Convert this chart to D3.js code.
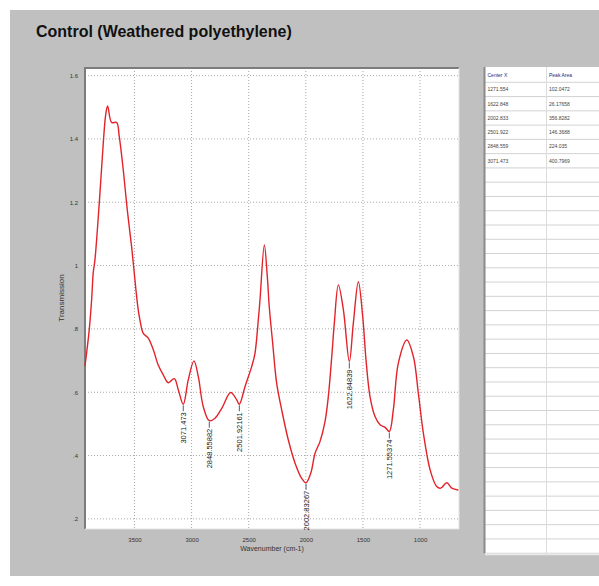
<!DOCTYPE html>
<html>
<head>
<meta charset="utf-8">
<script src="https://cdn.jsdelivr.net/npm/d3@7"></script>
<style>
  body { margin: 0; background: white; }
  text { font-family: "Liberation Sans", Arial, sans-serif; }
</style>
</head>
<body>
<svg id="chart" width="599" height="586"></svg>
<script>
// spectrum (wavenumber cm-1 -> transmission)
var wavenumber = [3933, 3896, 3875, 3861, 3846, 3808, 3773, 3752, 3735, 3700, 3656, 3633, 3598, 3563, 3525, 3487, 3467, 3452, 3423, 3379, 3335, 3292, 3248, 3204, 3151, 3116, 3073, 3029, 2979, 2941, 2898, 2845, 2795, 2736, 2658, 2605, 2582, 2532, 2474, 2445, 2416, 2401, 2363, 2337, 2320, 2290, 2255, 2211, 2153, 2094, 2036, 1998, 1957, 1919, 1876, 1832, 1803, 1773, 1750, 1715, 1671, 1619, 1584, 1540, 1502, 1473, 1438, 1394, 1350, 1306, 1269, 1234, 1190, 1116, 1058, 1015, 971, 912, 854, 819, 766, 722, 665]
var transmission = [0.683, 0.797, 0.892, 0.977, 1.018, 1.198, 1.387, 1.476, 1.504, 1.452, 1.452, 1.407, 1.302, 1.176, 1.06, 0.923, 0.86, 0.828, 0.786, 0.771, 0.734, 0.686, 0.655, 0.630, 0.643, 0.607, 0.562, 0.639, 0.699, 0.649, 0.555, 0.510, 0.518, 0.549, 0.599, 0.576, 0.562, 0.618, 0.681, 0.723, 0.828, 0.892, 1.065, 0.965, 0.870, 0.755, 0.628, 0.544, 0.449, 0.376, 0.328, 0.314, 0.344, 0.407, 0.444, 0.507, 0.586, 0.712, 0.82, 0.939, 0.860, 0.697, 0.818, 0.949, 0.839, 0.702, 0.586, 0.523, 0.497, 0.489, 0.476, 0.544, 0.692, 0.765, 0.712, 0.597, 0.471, 0.355, 0.302, 0.297, 0.314, 0.297, 0.291]

var xTicks = [3500, 3000, 2500, 2000, 1500, 1000]
var yTicks = [0.2, 0.4, 0.6, 0.8, 1, 1.2, 1.4, 1.6]
var yTickText = ['.2', '.4', '.6', '.8', '1', '1.2', '1.4', '1.6']

// peak markers on the curve
var peakPos = [3073, 2845, 2582, 1998, 1619, 1269]
var peakVal = [0.562, 0.510, 0.562, 0.314, 0.697, 0.476]
var peakText = ['3071.473', '2848.55882', '2501.92161', '2002.83267', '1622.84839', '1271.55374']

// table on the right
var tableCenter = ['1271.554', '1622.848', '2002.833', '2501.922', '2848.559', '3071.473']
var tableArea = ['102.0472', '26.17658', '356.8282', '146.3688', '224.035', '400.7969']
var tableRows = 33

var svg = d3.select('#chart')

svg.append('rect') // grey panel
  .attr('x', 10).attr('y', 10)
  .attr('width', 589).attr('height', 566)
  .attr('fill', '#c0c0c0')

svg.append('text')
  .attr('x', 36).attr('y', 36.5)
  .attr('font-size', '16px')
  .attr('font-weight', 'bold')
  .attr('fill', '#111')
  .text('Control (Weathered polyethylene)')

// plot box (plotTop, not top: window.top is taken)
var plotLeft = 85, plotRight = 459, plotTop = 68, plotBottom = 529

var x = d3.scaleLinear().domain([3933, 659]).range([plotLeft, plotRight])
var y = d3.scaleLinear().domain([0.168, 1.624]).range([plotBottom, plotTop])

svg.append('rect')
  .attr('x', plotLeft).attr('y', plotTop)
  .attr('width', plotRight - plotLeft).attr('height', plotBottom - plotTop)
  .attr('fill', 'white')

// dotted grid
svg.append('g')
  .selectAll('line')
  .data(xTicks)
  .join('line')
  .attr('x1', d => x(d)).attr('x2', d => x(d))
  .attr('y1', plotTop).attr('y2', plotBottom)
  .attr('stroke', '#a8a8a8')
  .attr('stroke-dasharray', '1,2')

svg.append('g')
  .selectAll('line')
  .data(yTicks)
  .join('line')
  .attr('x1', plotLeft).attr('x2', plotRight)
  .attr('y1', d => y(d)).attr('y2', d => y(d))
  .attr('stroke', '#a8a8a8')
  .attr('stroke-dasharray', '1,2')

// sunken frame: dark top/left, light bottom/right
svg.append('path')
  .attr('d', `M${plotLeft},${plotBottom} V${plotTop} H${plotRight}`)
  .attr('fill', 'none').attr('stroke', '#7c7c7c').attr('stroke-width', 2)
svg.append('path')
  .attr('d', `M${plotRight},${plotTop} V${plotBottom} H${plotLeft}`)
  .attr('fill', 'none').attr('stroke', '#e2e2e2').attr('stroke-width', 1)

// axes (tick labels only, no tick marks)
var xAxis = svg.append('g')
  .attr('transform', `translate(0,${plotBottom})`)
  .call(d3.axisBottom(x).tickValues(xTicks).tickSize(0).tickPadding(9).tickFormat(d3.format('d')))
xAxis.select('.domain').remove()
xAxis.selectAll('text').attr('font-size', '6px').attr('fill', '#333').attr('font-family', null)

var yAxis = svg.append('g')
  .attr('transform', `translate(${plotLeft},0)`)
  .call(d3.axisLeft(y).tickValues(yTicks).tickSize(0).tickPadding(7).tickFormat((d, i) => yTickText[i]))
yAxis.select('.domain').remove()
yAxis.selectAll('text').attr('font-size', '6px').attr('fill', '#333').attr('font-family', null)

svg.append('text')
  .attr('x', 272).attr('y', 551)
  .attr('text-anchor', 'middle')
  .attr('font-size', '7px')
  .attr('fill', '#333')
  .text('Wavenumber (cm-1)')

svg.append('text')
  .attr('transform', 'translate(64,298) rotate(-90)')
  .attr('text-anchor', 'middle')
  .attr('font-size', '8px')
  .attr('fill', '#333')
  .text('Transmission')

// the spectrum
var line = d3.line()
  .x(d => x(d[0]))
  .y(d => y(d[1]))
  .curve(d3.curveCatmullRom.alpha(0.5))

svg.append('path')
  .datum(d3.zip(wavenumber, transmission))
  .attr('d', line)
  .attr('fill', 'none')
  .attr('stroke', '#e2232b')
  .attr('stroke-width', 1.4)
  .attr('stroke-linejoin', 'round')

// peak labels
var peaks = svg.append('g')
  .selectAll('g')
  .data(d3.range(peakPos.length))
  .join('g')
  .attr('transform', i => `translate(${x(peakPos[i])},${y(peakVal[i])})`)

peaks.append('line')
  .attr('x1', 0).attr('x2', 0)
  .attr('y1', 1).attr('y2', 7)
  .attr('stroke', '#4a5a80')
  .attr('stroke-width', 1)

peaks.append('text')
  .attr('transform', 'translate(2.5,8) rotate(-90)')
  .attr('text-anchor', 'end')
  .attr('font-size', '7.5px')
  .attr('fill', '#222')
  .text(i => peakText[i])

// table
var tx = 485, ty = 67, rowH = 14.27, headH = 15.3, colX = 546.5
var tableBottom = ty + headH + tableRows * rowH

svg.append('rect')
  .attr('x', tx).attr('y', ty)
  .attr('width', 140).attr('height', tableBottom - ty)
  .attr('fill', 'white')

svg.append('g')
  .selectAll('line')
  .data(d3.range(tableRows + 1))
  .join('line')
  .attr('x1', tx).attr('x2', 620)
  .attr('y1', i => ty + headH + i * rowH)
  .attr('y2', i => ty + headH + i * rowH)
  .attr('stroke', '#d2d2d2')

svg.append('line')
  .attr('x1', colX).attr('x2', colX)
  .attr('y1', ty).attr('y2', tableBottom)
  .attr('stroke', '#dcdcdc')

svg.append('line') // left border of the table
  .attr('x1', tx - 0.5).attr('x2', tx - 0.5)
  .attr('y1', ty).attr('y2', tableBottom)
  .attr('stroke', '#8a8a8a').attr('stroke-width', 2)

svg.append('line')
  .attr('x1', tx).attr('x2', 620)
  .attr('y1', tableBottom + 1).attr('y2', tableBottom + 1)
  .attr('stroke', '#e8e8e8').attr('stroke-width', 2)

var header = ['Center X', 'Peak Area']
svg.append('g')
  .selectAll('text')
  .data(header)
  .join('text')
  .attr('x', (d, i) => i == 0 ? tx + 2.5 : colX + 2.5)
  .attr('y', ty + 9.5)
  .attr('font-size', '5px')
  .attr('fill', '#28287e')
  .text(d => d)

var cells = svg.append('g')
cells.selectAll('.cx')
  .data(tableCenter)
  .join('text')
  .attr('class', 'cx')
  .attr('x', tx + 2.5)
  .attr('y', (d, i) => ty + headH + i * rowH + 9)
  .attr('font-size', '5px')
  .attr('fill', '#444')
  .text(d => d)
cells.selectAll('.pa')
  .data(tableArea)
  .join('text')
  .attr('class', 'pa')
  .attr('x', colX + 2.5)
  .attr('y', (d, i) => ty + headH + i * rowH + 9)
  .attr('font-size', '5px')
  .attr('fill', '#444')
  .text(d => d)
</script>
</body>
</html>
